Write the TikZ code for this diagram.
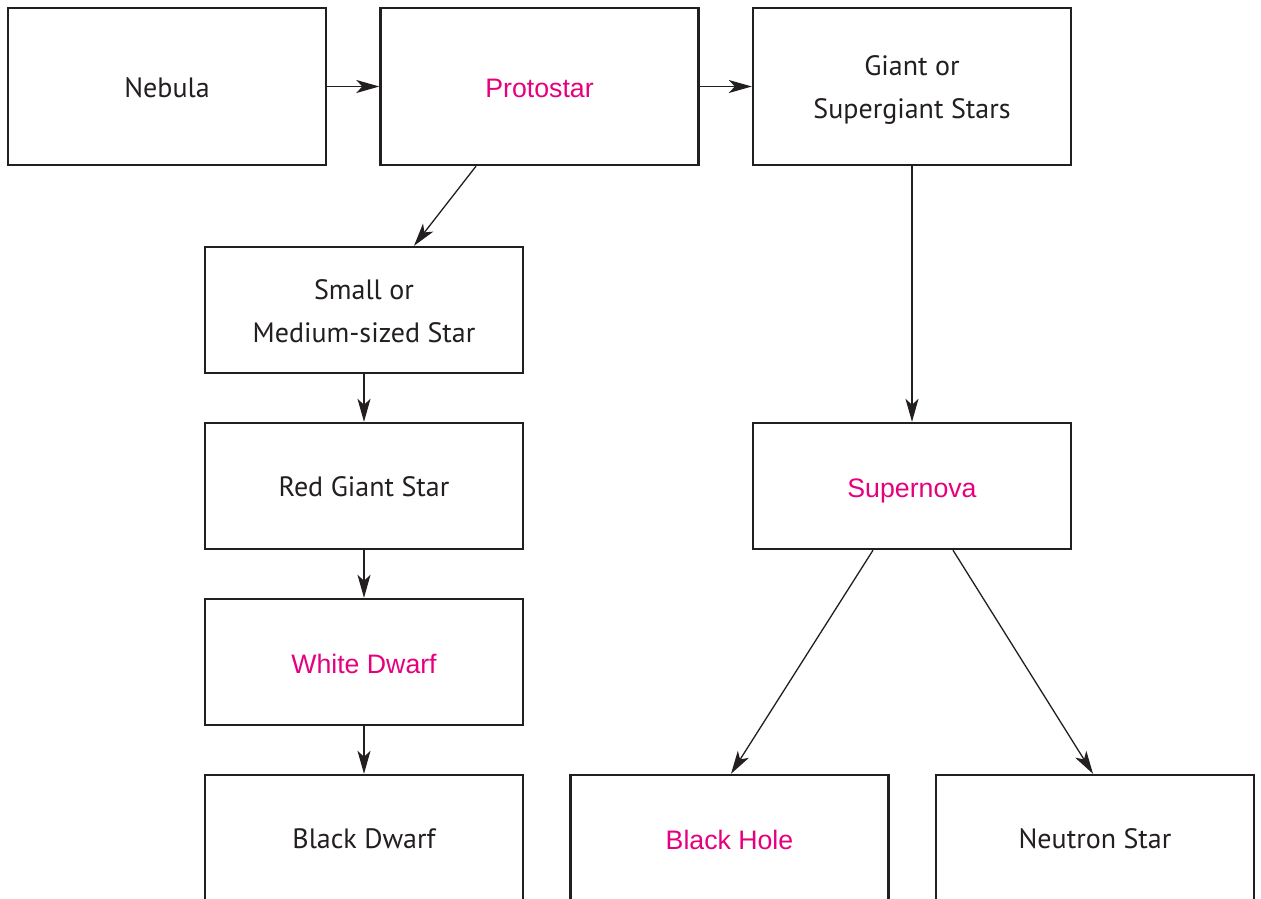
\documentclass[tikz,border=0pt]{standalone}
\usepackage{fontspec}
\setmainfont{PT Sans}
\newfontfamily\accentfont{Liberation Sans}
\usetikzlibrary{arrows.meta,calc}
\definecolor{ink}{HTML}{231F20}
\definecolor{hot}{HTML}{E6007E}
\begin{document}
\begin{tikzpicture}[x=1pt,y=-1pt,
  stagebox/.style={draw=ink,line width=2.4pt,minimum width=318pt,minimum height=126pt,
    inner sep=0pt,align=center,text=ink,font=\fontsize{28}{43}\selectfont,
    text height=21.6pt,text depth=0pt},
  twoline/.style={text height=64pt,text depth=0pt},
  tallbox/.style={stagebox,minimum height=157pt},
  keystage/.style={text=hot,font=\accentfont\fontsize{26.7}{43}\selectfont,
    text height=22.6pt,text depth=0pt},
  flow/.style={draw=ink,line width=1.3pt,-{Stealth[length=23pt,width=13pt,inset=6pt]}}]
\useasboundingbox (0,0) rectangle (1261,899);
\clip (0,0) rectangle (1261,899);
\fill[white] (0,0) rectangle (1261,899);

% top row
\node[tallbox] (nebula) at (167,86.5) {Nebula};
\node[tallbox,keystage] (proto) at (539.5,86.5) {Protostar};
\node[tallbox,twoline] (giant) at (912,86.5) {Giant or\\Supergiant Stars};

% low-mass branch
\node[stagebox,twoline] (small) at (364,310) {Small or\\Medium-sized Star};
\node[stagebox] (redgiant) at (364,486) {Red Giant Star};
\node[stagebox,keystage] (whitedwarf) at (364,662) {White Dwarf};
\node[stagebox] (blackdwarf) at (364,838) {Black Dwarf};

% high-mass branch
\node[stagebox,keystage] (supernova) at (912,486) {Supernova};
\node[stagebox,keystage] (blackhole) at (729.5,838) {Black Hole};
\node[stagebox] (neutron) at (1095,838) {Neutron Star};

% connectors
\draw[flow] (nebula.east) -- (proto.west);
\draw[flow] (proto.east) -- (giant.west);
\draw[flow] ($(proto.south)+(-63.5,0)$) -- ($(small.north)+(50,0)$);
\draw[flow] (small) -- (redgiant);
\draw[flow] (redgiant) -- (whitedwarf);
\draw[flow] (whitedwarf) -- (blackdwarf);
\draw[flow] (giant) -- (supernova);
\draw[flow] ($(supernova.south)+(-39,0)$) -- ($(blackhole.north)+(1.5,0)$);
\draw[flow] ($(supernova.south)+(41,0)$) -- ($(neutron.north)+(-2,0)$);
\end{tikzpicture}
\end{document}
